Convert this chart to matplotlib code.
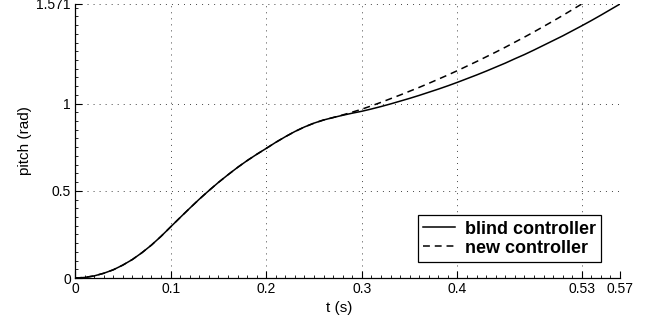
import matplotlib
matplotlib.use("Agg")
import matplotlib.pyplot as plt
from matplotlib.ticker import FixedLocator, FixedFormatter, MultipleLocator

plt.rcParams['font.family'] = ['Liberation Sans', 'DejaVu Sans']

# time samples (s)
t_blind = [0.00, 0.01, 0.02, 0.03, 0.04, 0.05, 0.06, 0.07, 0.08, 0.09,
           0.10, 0.11, 0.12, 0.13, 0.14, 0.15, 0.16, 0.17, 0.18, 0.19,
           0.20, 0.21, 0.22, 0.23, 0.24, 0.25, 0.26, 0.27, 0.28, 0.29,
           0.30, 0.31, 0.32, 0.33, 0.34, 0.35, 0.36, 0.37, 0.38, 0.39,
           0.40, 0.41, 0.42, 0.43, 0.44, 0.45, 0.46, 0.47, 0.48, 0.49,
           0.50, 0.51, 0.52, 0.53, 0.54, 0.55, 0.56, 0.57]
# pitch of the blind controller (rad)
p_blind = [0.000, 0.003, 0.012, 0.027, 0.047, 0.074, 0.106, 0.145, 0.189, 0.239,
           0.293, 0.347, 0.400, 0.452, 0.501, 0.548, 0.592, 0.634, 0.673, 0.709,
           0.743, 0.778, 0.810, 0.840, 0.866, 0.888, 0.906, 0.920, 0.933, 0.945,
           0.956, 0.969, 0.983, 0.998, 1.014, 1.030, 1.047, 1.065, 1.083, 1.102,
           1.122, 1.143, 1.164, 1.186, 1.209, 1.232, 1.257, 1.281, 1.307, 1.334,
           1.361, 1.388, 1.417, 1.446, 1.476, 1.507, 1.539, 1.571]

t_new = [0.00, 0.01, 0.02, 0.03, 0.04, 0.05, 0.06, 0.07, 0.08, 0.09,
         0.10, 0.11, 0.12, 0.13, 0.14, 0.15, 0.16, 0.17, 0.18, 0.19,
         0.20, 0.21, 0.22, 0.23, 0.24, 0.25, 0.26, 0.27, 0.28, 0.29,
         0.30, 0.31, 0.32, 0.33, 0.34, 0.35, 0.36, 0.37, 0.38, 0.39,
         0.40, 0.41, 0.42, 0.43, 0.44, 0.45, 0.46, 0.47, 0.48, 0.49,
         0.50, 0.51, 0.52, 0.53]
# pitch of the new controller (rad)
p_new = [0.000, 0.003, 0.012, 0.027, 0.047, 0.074, 0.106, 0.145, 0.189, 0.239,
         0.293, 0.347, 0.400, 0.452, 0.501, 0.548, 0.592, 0.634, 0.673, 0.709,
         0.743, 0.778, 0.810, 0.840, 0.866, 0.888, 0.906, 0.920, 0.935, 0.951,
         0.968, 0.987, 1.007, 1.028, 1.049, 1.071, 1.093, 1.116, 1.140, 1.164,
         1.189, 1.215, 1.241, 1.268, 1.295, 1.323, 1.352, 1.381, 1.411, 1.442,
         1.473, 1.505, 1.538, 1.571]

xticks = [0, 0.1, 0.2, 0.3, 0.4, 0.53, 0.57]
xticklabels = ['0', '0.1', '0.2', '0.3', '0.4', '0.53', '0.57']
yticks = [0, 0.5, 1, 1.571]
yticklabels = ['0', '0.5', '1', '1.571']

fig = plt.figure(figsize=(6.61, 3.26), dpi=100)
ax = fig.add_axes([75 / 661, 48 / 326, 545 / 661, 274 / 326])

ax.plot(t_blind, p_blind, color='black', lw=1.1, ls='-', label='blind controller')
ax.plot(t_new, p_new, color='black', lw=1.1, ls=(0, (4.5, 3.2)), label='new controller')

ax.set_xlim(0, 0.57)
ax.set_ylim(0, 1.571)
ax.xaxis.set_major_locator(FixedLocator(xticks))
ax.xaxis.set_major_formatter(FixedFormatter(xticklabels))
ax.yaxis.set_major_locator(FixedLocator(yticks))
ax.yaxis.set_major_formatter(FixedFormatter(yticklabels))
ax.xaxis.set_minor_locator(MultipleLocator(0.01))
ax.yaxis.set_minor_locator(MultipleLocator(0.05))

ax.tick_params(which='major', direction='in', length=5, width=0.8, labelsize=10, pad=3)
ax.tick_params(which='minor', direction='in', length=2.5, width=0.6)
ax.tick_params(top=False, right=False, which='both')

ax.spines['top'].set_visible(False)
ax.spines['right'].set_visible(False)
ax.spines['left'].set_linewidth(0.9)
ax.spines['bottom'].set_linewidth(0.9)

ax.grid(True, which='major', ls=(0, (1, 5.2)), color='#444444', lw=0.7)

ax.set_xlabel('t (s)', fontsize=11)
ax.xaxis.set_label_coords(0.485, -0.085)
ax.set_ylabel('pitch (rad)', fontsize=11)
ax.yaxis.set_label_coords(-0.079, 0.5)

leg = ax.legend(loc='lower right', bbox_to_anchor=(0.965, 0.058), frameon=True, fancybox=False,
                edgecolor='black', framealpha=1, prop={'weight': 'bold', 'size': 13},
                handlelength=1.75, borderpad=0.3, labelspacing=0.12, handletextpad=0.55,
                borderaxespad=0)
leg.get_frame().set_linewidth(0.9)

fig.savefig('out.png', dpi=100)
